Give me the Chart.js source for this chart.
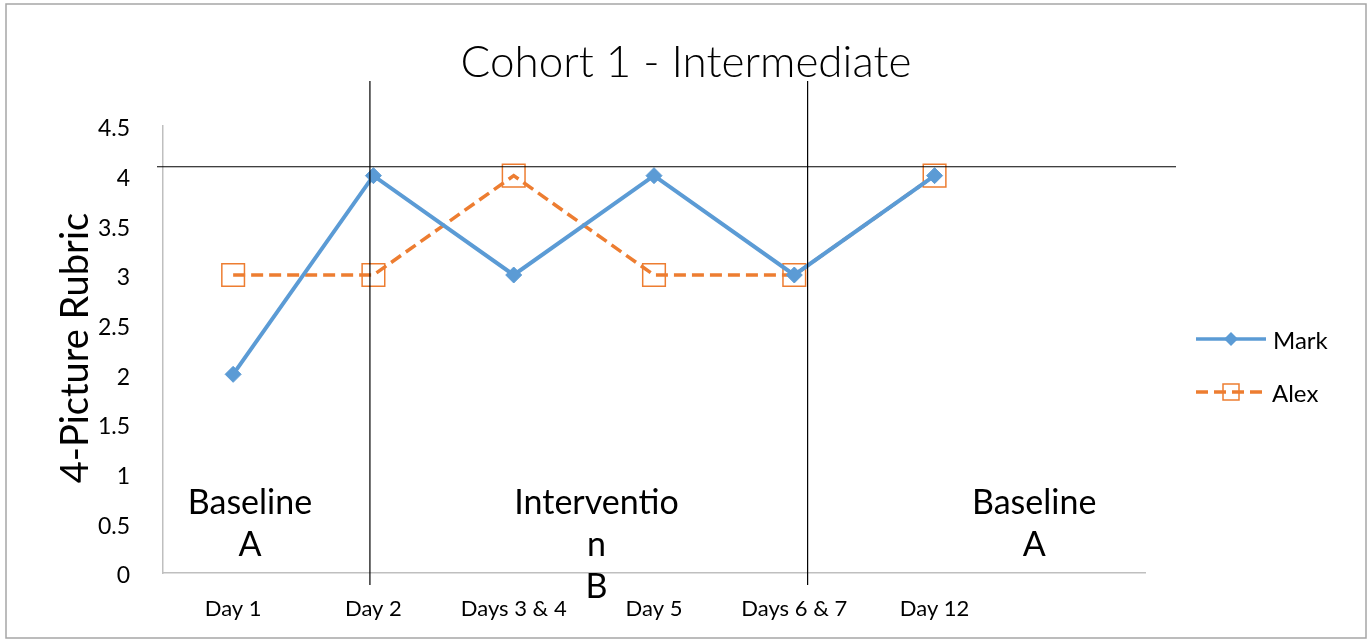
<!DOCTYPE html>
<html lang="en">
<head>
  <meta charset="UTF-8" />
  <title>Cohort 1 - Intermediate</title>
  <script src="https://cdn.jsdelivr.net/npm/chart.js"></script>
  <style>
    body {
      margin: 0;
      background: #fff;
    }
    .wrap {
      width: 1372px;
      height: 640px;
      position: relative;
    }
  </style>
</head>
<body>

<div class="wrap">
  <canvas id="rubricChart"></canvas>
</div>

<script>
  // chart data
  const days = ['Day 1', 'Day 2', 'Days 3 & 4', 'Day 5', 'Days 6 & 7', 'Day 12', ''];
  const markScores = [2, 4, 3, 4, 3, 4, null];
  const alexScores = [3, 3, 4, 3, 3, 4, null];
  const yTicks = [0, 0.5, 1, 1.5, 2, 2.5, 3, 3.5, 4, 4.5];

  // phase markers drawn over the plot (in axis units)
  const phaseLines = [0.975, 4.095];
  const goalLine = 4.09;
  const phaseLabels = [
    { x: 0.12, lines: ['Baseline', 'A'] },
    { x: 2.59, lines: ['Interventio', 'n', 'B'] },
    { x: 5.71, lines: ['Baseline', 'A'] }
  ];

  const FONT = 'Lato, "Open Sans", sans-serif';
  const BLUE = '#5B9BD5';
  const ORANGE = '#ED7D31';

  // extra drawing: frame, title, y title, phase lines, labels, legend
  const decorations = {
    id: 'decorations',
    beforeDraw(chart) {
      const ctx = chart.ctx;
      ctx.save();
      ctx.fillStyle = '#fff';
      ctx.fillRect(0, 0, chart.width, chart.height);
      ctx.strokeStyle = '#A6A6A6';
      ctx.lineWidth = 1.5;
      ctx.strokeRect(6, 4, 1360, 634);
      ctx.restore();
    },
    afterDatasetsDraw(chart) {
      const ctx = chart.ctx;
      const xs = chart.scales.x, ys = chart.scales.y;
      const area = chart.chartArea;
      ctx.save();

      // goal line + phase change lines
      ctx.strokeStyle = '#000';
      ctx.lineWidth = 1.2;
      const gy = ys.getPixelForValue(goalLine);
      ctx.beginPath();
      ctx.moveTo(area.left - 6, gy);
      ctx.lineTo(area.right + 31, gy);
      ctx.stroke();
      phaseLines.forEach(v => {
        const px = xs.getPixelForValue(v);
        ctx.beginPath();
        ctx.moveTo(px, area.top - 45);
        ctx.lineTo(px, area.bottom + 12);
        ctx.stroke();
      });

      // phase labels
      ctx.fillStyle = '#000';
      ctx.font = '34px ' + FONT;
      ctx.textAlign = 'center';
      ctx.textBaseline = 'middle';
      phaseLabels.forEach(p => {
        const px = xs.getPixelForValue(p.x);
        p.lines.forEach((t, i) => {
          ctx.fillText(t, px, ys.getPixelForValue(0.7) + i * 42);
        });
      });

      // title
      ctx.font = '300 44px ' + FONT;
      ctx.fillText('Cohort 1 - Intermediate', 686, 63);

      // y axis title
      ctx.save();
      ctx.translate(76, 348);
      ctx.rotate(-Math.PI / 2);
      ctx.font = '38px ' + FONT;
      ctx.fillText('4-Picture Rubric', 0, 0);
      ctx.restore();

      // legend
      ctx.textAlign = 'left';
      ctx.font = '24px ' + FONT;
      // Mark
      ctx.strokeStyle = BLUE;
      ctx.lineWidth = 3.5;
      ctx.beginPath();
      ctx.moveTo(1196, 339);
      ctx.lineTo(1266, 339);
      ctx.stroke();
      ctx.fillStyle = BLUE;
      ctx.beginPath();
      ctx.moveTo(1231, 332);
      ctx.lineTo(1238, 339);
      ctx.lineTo(1231, 346);
      ctx.lineTo(1224, 339);
      ctx.closePath();
      ctx.fill();
      ctx.fillStyle = '#000';
      ctx.fillText('Mark', 1273, 341);
      // Alex
      ctx.strokeStyle = ORANGE;
      ctx.setLineDash([12, 6]);
      ctx.beginPath();
      ctx.moveTo(1196, 392);
      ctx.lineTo(1266, 392);
      ctx.stroke();
      ctx.setLineDash([]);
      ctx.lineWidth = 1.5;
      ctx.strokeRect(1223, 384, 16, 16);
      ctx.fillText('Alex', 1272, 394);

      ctx.restore();
    }
  };

  new Chart(document.getElementById('rubricChart'), {
    type: 'line',
    data: {
      labels: days,
      datasets: [
        {
          label: 'Mark',
          data: markScores,
          borderColor: BLUE,
          backgroundColor: BLUE,
          borderWidth: 4,
          pointStyle: 'rectRot',
          pointRadius: 8,
          pointBorderWidth: 1,
          tension: 0
        },
        {
          label: 'Alex',
          data: alexScores,
          borderColor: ORANGE,
          backgroundColor: 'rgba(0,0,0,0)',
          borderWidth: 3.5,
          borderDash: [12, 6],
          pointStyle: 'rect',
          pointRadius: 16,
          pointBorderWidth: 1.5,
          pointBorderColor: ORANGE,
          tension: 0
        }
      ]
    },
    options: {
      responsive: true,
      maintainAspectRatio: false,
      animation: false,
      layout: { padding: { left: 0, top: 126, right: 227, bottom: 0 } },
      plugins: {
        legend: { display: false },
        tooltip: { enabled: false },
        title: { display: false }
      },
      scales: {
        x: {
          offset: true,
          grid: { display: false },
          border: { display: true, color: '#BFBFBF', width: 1.5 },
          ticks: {
            color: '#000',
            font: { family: FONT, size: 22 },
            padding: 15,
            maxRotation: 0,
            autoSkip: false
          },
          afterFit: s => { s.height = 67; }
        },
        y: {
          min: 0,
          max: 4.5,
          afterBuildTicks: s => { s.ticks = yTicks.map(v => ({ value: v })); },
          grid: { display: false },
          border: { display: true, color: '#BFBFBF', width: 1.5 },
          ticks: {
            color: '#000',
            font: { family: FONT, size: 23 },
            padding: 25,
            labelOffset: 3,
            callback: v => String(v)
          },
          afterFit: s => { s.width = 163; }
        }
      }
    },
    plugins: [decorations]
  });
</script>
</body>
</html>
